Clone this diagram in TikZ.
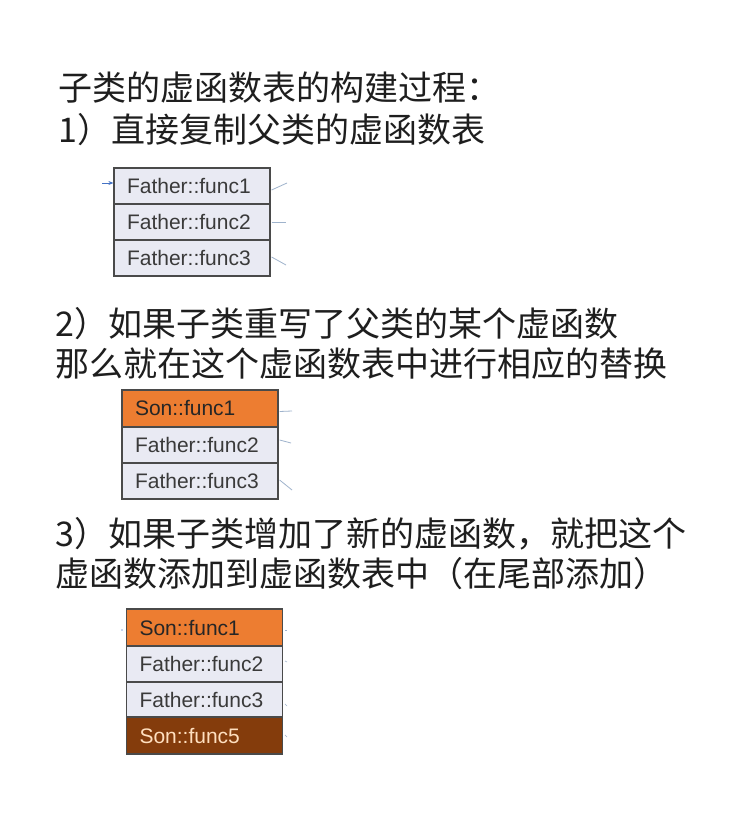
\documentclass[tikz,border=0pt]{standalone}
\usepackage{fontspec}
\setmainfont{Liberation Sans}
\newfontfamily\cjk{Noto Sans CJK SC}
\usetikzlibrary{arrows.meta}
\definecolor{cellfill}{HTML}{E9EAF3}
\definecolor{orangefill}{HTML}{ED7D31}
\definecolor{brownfill}{HTML}{843C0C}
\definecolor{celltext}{HTML}{3A3A3A}
\definecolor{celledge}{HTML}{4A4A4A}
\definecolor{tickcol}{HTML}{9FB3CC}
\definecolor{ptrcol}{HTML}{4472C4}
\definecolor{txt}{HTML}{1E1E1E}
\begin{document}
\begin{tikzpicture}[x=1pt,y=-1pt,
  cell/.style={draw=celledge, line width=1.2pt, fill=cellfill, text=celltext,
    minimum width=156pt, minimum height=36pt, inner ysep=0pt,
    text width=130pt, align=left, inner xsep=13pt,
    font=\fontsize{21}{23}\selectfont},
  soncell/.style={cell, fill=orangefill, text=black!85},
  newcell/.style={cell, fill=brownfill, text=orange!25},
  line/.style={anchor=base west, inner sep=0pt, text=txt,
    font=\cjk\fontsize{34}{36}\selectfont},
  tick/.style={draw=tickcol, line width=0.8pt},
  ptr/.style={draw=ptrcol, line width=0.9pt, -{Stealth[length=5pt,width=4pt]}}
]
\useasboundingbox (0,0) rectangle (735,818);
\fill[white] (0,0) rectangle (735,818);

% texts
\node[line] (t1) at (58,101) {子类的虚函数表的构建过程：};
\node[line] (t2) at (58,143) {1）直接复制父类的虚函数表};
\node[line] (t3) at (55,336) {2）如果子类重写了父类的某个虚函数};
\node[line] (t4) at (55,376) {那么就在这个虚函数表中进行相应的替换};
\node[line] (t5) at (55,546) {3）如果子类增加了新的虚函数，就把这个};
\node[line] (t6) at (55,586) {虚函数添加到虚函数表中（在尾部添加）};

% table 1
\node[cell] (a1) at (192,186) {Father::func1};
\node[cell] (a2) at (192,222) {Father::func2};
\node[cell] (a3) at (192,258) {Father::func3};
\coordinate (ap) at (102,183);
\draw[ptr] (ap) -- (a1.west |- ap);
\coordinate (ar1) at (287,183);
\coordinate (ar2) at (286,222);
\coordinate (ar3) at (286,265);
\draw[tick] (a1.east) ++(1,4) -- (ar1);
\draw[tick] (a2.east) ++(1,0) -- (ar2);
\draw[tick] (a3.east) ++(1,-1) -- (ar3);

% table 2
\node[cell, soncell, minimum height=37pt] (b1) at (200,408.5) {Son::func1};
\node[cell, minimum height=36pt] (b2) at (200,445) {Father::func2};
\node[cell, minimum height=36pt] (b3) at (200,481) {Father::func3};
\coordinate (br1) at (292,411);
\coordinate (br2) at (291,443);
\coordinate (br3) at (292,490);
\draw[tick] (b1.east) ++(1,3) -- (br1);
\draw[tick] (b2.east) ++(1,-5) -- (br2);
\draw[tick] (b3.east) ++(1,-1) -- (br3);

% table 3
\node[cell, soncell, minimum width=155pt, minimum height=37pt] (c1) at (204.5,627.5) {Son::func1};
\node[cell, minimum width=155pt, minimum height=36pt] (c2) at (204.5,664) {Father::func2};
\node[cell, minimum width=155pt, minimum height=35pt] (c3) at (204.5,699.5) {Father::func3};
\node[cell, newcell, minimum width=155pt, minimum height=37pt] (c4) at (204.5,735.5) {Son::func5};
\coordinate (cl) at (122,630);
\fill[ptrcol!60] (cl) circle (0.9pt);
\coordinate (cr1) at (287,630);
\coordinate (cr2) at (287,662);
\coordinate (cr3) at (287,706);
\coordinate (cr4) at (287,737);
\draw[tick, line width=0.6pt] (c1.east |- cr1) ++(2,0) -- (cr1);
\draw[tick, line width=0.6pt] (c2.east |- cr2) ++(2,-1) -- (cr2);
\draw[tick, line width=0.6pt] (c3.east |- cr3) ++(2,-2) -- (cr3);
\draw[tick, line width=0.6pt] (c4.east |- cr4) ++(2,-2) -- (cr4);
\end{tikzpicture}
\end{document}
